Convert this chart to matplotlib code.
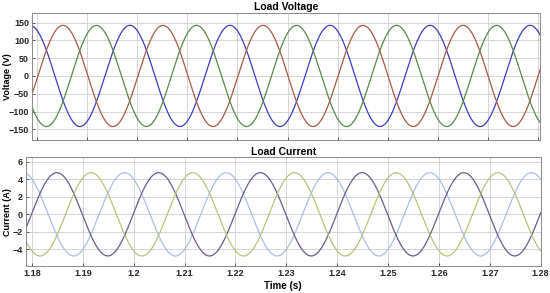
import matplotlib
matplotlib.use("Agg")
import matplotlib.pyplot as plt
import numpy as np

# values
f_hz = 50.0
v_amp = 142.0
v_peak_times = [1.1785, 1.1851, 1.1918]      # blue, red, green
v_colors = ['#3c3cc8', '#a85a46', '#5a8a4a']
i_amp = 4.75
i_peak_times = [1.1782, 1.1849, 1.1916]      # light blue, purple, olive
i_colors = ['#a8bfe4', '#6e5a8e', '#b9c47a']

xticks = [1.18, 1.19, 1.2, 1.21, 1.22, 1.23, 1.24, 1.25, 1.26, 1.27, 1.28]
xticklabels = ['1.18', '1.19', '1.2', '1.21', '1.22', '1.23', '1.24', '1.25', '1.26', '1.27', '1.28']
v_ticks = [-150, -100, -50, 0, 50, 100, 150]
i_ticks = [-4, -2, 0, 2, 4, 6]

plt.rcParams['font.family'] = ['Liberation Sans', 'DejaVu Sans']
plt.rcParams['font.weight'] = 'bold'

t = np.linspace(1.1785, 1.2808, 3000)

fig = plt.figure(figsize=(5.5, 2.93), dpi=100)
ax = fig.add_axes([0.058, 0.522, 0.924, 0.434])
ax2 = fig.add_axes([0.047, 0.092, 0.936, 0.371])

for tp, c in zip(v_peak_times, v_colors):
    ax.plot(t, v_amp * np.cos(2 * np.pi * f_hz * (t - tp)), color=c, lw=0.9)
for tp, c in zip(i_peak_times, i_colors):
    ax2.plot(t, i_amp * np.cos(2 * np.pi * f_hz * (t - tp)), color=c, lw=0.9)

ax.set_xlim(1.1789, 1.2805)
ax.set_ylim(-180, 177)
ax.set_yticks(v_ticks)
ax.set_xticks(xticks)
ax.set_xticklabels([])
ax.set_ylabel('Voltage (V)', fontsize=6.5, fontweight='bold')
ax.yaxis.set_label_coords(-0.039, 0.5)
ax.set_title('Load Voltage', fontsize=7.5, fontweight='bold', pad=2)

ax2.set_xlim(1.1788, 1.2800)
ax2.set_ylim(-5.9, 6.5)
ax2.set_yticks(i_ticks)
ax2.set_xticks(xticks)
ax2.set_xticklabels(xticklabels)
ax2.set_ylabel('Current (A)', fontsize=6.5, fontweight='bold')
ax2.yaxis.set_label_coords(-0.027, 0.5)
ax2.set_xlabel('Time (s)', fontsize=7, fontweight='bold', labelpad=2)
ax2.set_title('Load Current', fontsize=7.5, fontweight='bold', pad=2)

for a in (ax, ax2):
    a.grid(True, color='#cfcfcf', lw=0.6)
    a.set_axisbelow(True)
    a.tick_params(direction='in', length=2, width=0.5, labelsize=6.5, colors='#262626', pad=2)
    for s in a.spines.values():
        s.set_color('#8a8a8a')
        s.set_linewidth(0.7)

plt.savefig('out.png', dpi=100)
